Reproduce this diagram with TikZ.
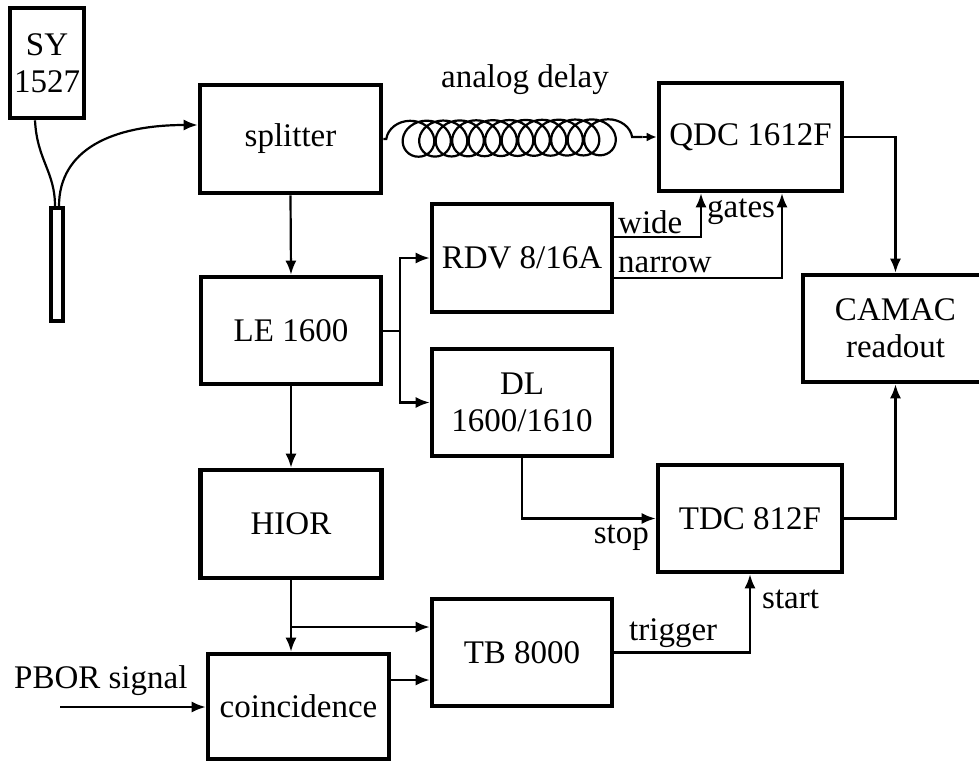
\documentclass[tikz,border=0pt]{standalone}
\usepackage{fontspec}
\setmainfont{Liberation Serif}
\usetikzlibrary{arrows.meta,decorations.pathmorphing,calc}
\begin{document}
\begin{tikzpicture}[x=1pt,y=-1pt,
  box/.style={draw,line width=4.6pt,inner sep=0pt,align=center,font=\fontsize{33}{37}\selectfont},
  conn/.style={line width=2.2pt,-{Latex[length=14pt,width=11pt]}},
  plain/.style={line width=2.2pt},
  lbl/.style={inner sep=0pt,font=\fontsize{33}{37}\selectfont},
  coilline/.style={line width=2.2pt,decorate,decoration={coil,amplitude=18pt,segment length=16.5pt,aspect=1.1,pre length=3pt,post length=2pt}}]
\useasboundingbox (0,0) rectangle (979,762);
% boxes
\node[box,minimum width=74pt,minimum height=110pt] (sy) at (47,63) {SY\\1527};
\node[draw,line width=3.5pt,inner sep=0pt,minimum width=12pt,minimum height=113pt] (tube) at (57,264.5) {};
\node[box,minimum width=181pt,minimum height=108pt] (splitter) at (290.5,139) {splitter};
\node[box,minimum width=183pt,minimum height=108pt] (qdc) at (750.5,137) {QDC 1612F};
\node[box,minimum width=180pt,minimum height=108pt] (rdv) at (522,258) {RDV 8/16A};
\node[box,minimum width=180pt,minimum height=107pt] (le) at (291,330.5) {LE 1600};
\node[box,minimum width=180pt,minimum height=107pt] (dl) at (522,402.5) {DL\\1600/1610};
\node[box,minimum width=185pt,minimum height=107pt] (camac) at (895.5,328.5) {CAMAC\\readout};
\node[box,minimum width=181pt,minimum height=108pt] (hior) at (291,524) {HIOR};
\node[box,minimum width=184pt,minimum height=107pt] (tdc) at (750,518.5) {TDC 812F};
\node[box,minimum width=180pt,minimum height=107pt] (tb) at (522,652.5) {TB 8000};
\node[box,minimum width=181pt,minimum height=105pt] (coinc) at (298.5,706.5) {coincidence};
% labels
\node[lbl,anchor=base] (ad) at (525,88) {analog delay};
\node[lbl,anchor=base west] (wide) at (618,233) {wide};
\node[lbl,anchor=base west] (narrow) at (618,272) {narrow};
\node[lbl,anchor=base west] (gates) at (707,218) {gates};
\node[lbl,anchor=base east] (stop) at (649,543) {stop};
\node[lbl,anchor=base west] (start) at (762,608) {start};
\node[lbl,anchor=base west] (trigger) at (629,640) {trigger};
\node[lbl,anchor=base west] (pbor) at (14,688) {PBOR signal};
% cables from HV to tube to splitter
\coordinate (s1) at ([xshift=-12pt]sy.south);
\coordinate (t1) at ([xshift=-2pt]tube.north);
\coordinate (t2) at ([xshift=2pt]tube.north);
\coordinate (sp) at ([yshift=14pt]splitter.west);
\draw[plain] (s1) .. controls +(2,40) and +(0,-35) .. (t1);
\draw[conn] (t2) .. controls +(0,-57) and +(-85,0) .. (sp);
% analog delay coil
\coordinate (ce) at ([xshift=-14pt]qdc.west);
\draw[coilline] (splitter.east) -- (ce);
\draw[line width=2.2pt,-{Latex[length=10pt,width=9pt]}] (ce) -- (qdc.west);
% vertical chain
\draw[conn] (splitter.south) -- (le.north);
\draw[conn] (le.south) -- (hior.north);
\draw[conn] (hior.south) -- (hior.south |- coinc.north);
\coordinate (b) at (291,627);
\draw[conn] (b) -- (b -| tb.west);
% LE to RDV and DL
\coordinate (j) at (400,331);
\draw[plain] (le.east |- j) -- (j);
\draw[conn] (j) |- (rdv.west);
\draw[conn] (j) |- (dl.west);
% gates
\coordinate (w0) at ([yshift=21pt]rdv.east);
\coordinate (n0) at ([yshift=-20pt]rdv.east);
\coordinate (w1) at ([xshift=-49.5pt]qdc.south);
\coordinate (n1) at ([xshift=31.5pt]qdc.south);
\draw[conn] (w0) -| (w1);
\draw[conn] (n0) -| (n1);
% readout
\draw[conn] (qdc.east) -| (camac.north);
\draw[conn] (tdc.east) -| (camac.south);
% stop / start
\draw[conn] (dl.south) |- (tdc.west);
\draw[conn] (tb.east) -| (tdc.south);
% coincidence
\coordinate (c1) at ([yshift=26.5pt]coinc.east);
\draw[conn] (c1) -- (c1 -| tb.west);
\coordinate (pin) at (60,707);
\draw[conn] (pin) -- (pin -| coinc.west);
\end{tikzpicture}
\end{document}
